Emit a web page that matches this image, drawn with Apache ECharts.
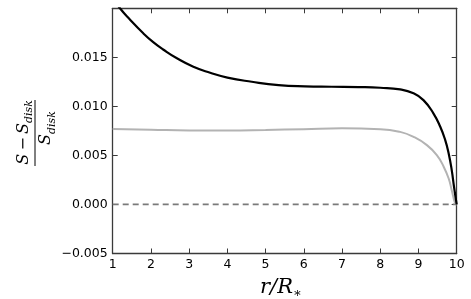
<!DOCTYPE html>
<html>
<head>
<meta charset="utf-8">
<script src="https://cdn.jsdelivr.net/npm/echarts@6/dist/echarts.min.js"></script>
<style>html,body{margin:0;padding:0;background:#fff;}#c{width:471px;height:299px;}</style>
</head>
<body>
<div id="c"></div>
<script>
// Data
var rBlack = [1.0, 1.19, 1.46, 1.8, 2.06, 2.32, 2.68, 3.11, 3.55, 4.0, 4.64, 5.34, 6.03, 6.73, 7.43, 8.0, 8.52, 8.87, 9.13, 9.39, 9.57, 9.70, 9.79, 9.87, 9.93, 10.0];
var vBlack = [0.0211, 0.0200, 0.01881, 0.01745, 0.01655, 0.0158, 0.0149, 0.01404, 0.01343, 0.01293, 0.01251, 0.01217, 0.01204, 0.0120, 0.01197, 0.0119, 0.01173, 0.01133, 0.01064, 0.00929, 0.00792, 0.00656, 0.0052, 0.0035, 0.0018, 0.0];
var rGray = [1, 2, 3, 4, 5, 6, 7, 8, 8.52, 8.87, 9.22, 9.48, 9.66, 9.79, 9.87, 9.96, 10];
var vGray = [0.0077, 0.00762, 0.00755, 0.00755, 0.0076, 0.00768, 0.00776, 0.00768, 0.0074, 0.0069, 0.00605, 0.00503, 0.00384, 0.00265, 0.00146, 0.0001, 0.0];
var rZero = [1, 10];
var vZero = [0, 0];
var xTicks = [1, 2, 3, 4, 5, 6, 7, 8, 9, 10];
var yTicks = [-0.005, 0.000, 0.005, 0.010, 0.015];

function zip(a, b) { return a.map(function (x, i) { return [x, b[i]]; }); }

var frame = '#3a3a3a';
var font = 'DejaVu Sans';
function axisBase(extra) {
  var o = {
    axisLine: { show: true, onZero: false, lineStyle: { color: frame, width: 1.3 } },
    axisTick: { show: true, inside: true, length: 5, lineStyle: { color: frame, width: 1 } },
    splitLine: { show: false }
  };
  for (var k in extra) o[k] = extra[k];
  return o;
}
function fmtY(v) {
  if (v > 0.0199) return '';
  var s = Math.abs(v).toFixed(3);
  return (v < -1e-9 ? '\u2212' : '') + s;
}

var chart = echarts.init(document.getElementById('c'), null, { renderer: 'canvas' });
chart.setOption({
  animation: false,
  backgroundColor: '#fff',
  grid: { left: 112.7, right: 14.3, top: 8.3, bottom: 45.5 },
  xAxis: [
    axisBase({ type: 'value', min: 1, max: 10, interval: 1, position: 'bottom',
      axisLabel: { show: true, margin: 5, color: '#000', fontFamily: font, fontSize: 12.5 } }),
    axisBase({ type: 'value', min: 1, max: 10, interval: 1, position: 'top', axisLabel: { show: false } })
  ],
  yAxis: [
    axisBase({ type: 'value', min: -0.005, max: 0.02, interval: 0.005, position: 'left',
      axisLabel: { show: true, margin: 5, color: '#000', fontFamily: font, fontSize: 12.5, formatter: fmtY } }),
    axisBase({ type: 'value', min: -0.005, max: 0.02, interval: 0.005, position: 'right', axisLabel: { show: false } })
  ],
  series: [
    { type: 'line', data: zip(rZero, vZero), showSymbol: false, symbol: 'none',
      lineStyle: { color: '#7a7a7a', width: 1.8, type: [6, 4] }, z: 1 },
    { type: 'line', data: zip(rGray, vGray), smooth: 0.5, showSymbol: false, symbol: 'none',
      lineStyle: { color: '#b3b3b3', width: 2 }, z: 2 },
    { type: 'line', data: zip(rBlack, vBlack), smooth: 0.5, showSymbol: false, symbol: 'none',
      lineStyle: { color: '#000', width: 2.2 }, z: 3 }
  ],
  graphic: [
    {
      type: 'group', x: 35, y: 133, rotation: Math.PI / 2,
      children: [
        { type: 'line', shape: { x1: -33, y1: 0, x2: 33, y2: 0 }, style: { stroke: '#000', lineWidth: 1 } },
        { type: 'text', x: 10, y: -3, style: { text: 'S\u2009\u2212\u2009S', fontFamily: 'DejaVu Serif', fontStyle: 'italic', fontSize: 16, fill: '#000', align: 'right', verticalAlign: 'bottom' } },
        { type: 'text', x: 10, y: 0, style: { text: 'disk', fontFamily: 'DejaVu Serif', fontStyle: 'italic', fontSize: 11, fill: '#000', align: 'left', verticalAlign: 'bottom' } },
        { type: 'text', x: -1, y: 3, style: { text: 'S', fontFamily: 'DejaVu Serif', fontStyle: 'italic', fontSize: 16, fill: '#000', align: 'right', verticalAlign: 'top' } },
        { type: 'text', x: -1, y: 12, style: { text: 'disk', fontFamily: 'DejaVu Serif', fontStyle: 'italic', fontSize: 11, fill: '#000', align: 'left', verticalAlign: 'top' } }
      ]
    },
    { type: 'text', x: 293, y: 288, style: { text: 'r/R', fontFamily: 'DejaVu Serif', fontStyle: 'italic', fontSize: 21, fill: '#000', align: 'right', verticalAlign: 'middle' } },
    { type: 'text', x: 293, y: 294, style: { text: '\u2217', fontFamily: 'DejaVu Serif', fontSize: 13, fill: '#000', align: 'left', verticalAlign: 'middle' } }
  ]
});
</script>
</body>
</html>
